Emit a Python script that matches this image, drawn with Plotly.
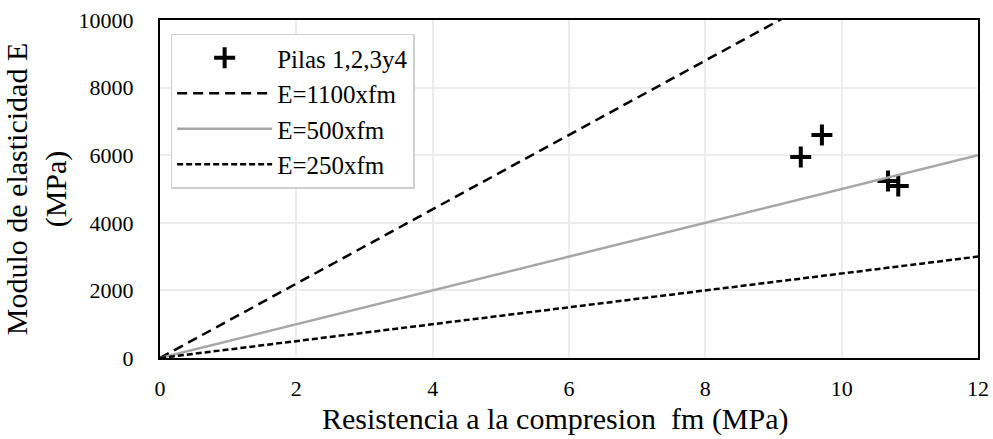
import plotly.graph_objects as go

# Data
fm_points = [9.4, 9.71, 10.68, 10.83]
E_points = [5950, 6600, 5240, 5090]
fm_line = [0, 12]
coef_1100 = 1100
coef_500 = 500
coef_250 = 250

FONT = "Liberation Serif, Times New Roman, serif"

fig = go.Figure()
fig.add_trace(go.Scatter(
    x=fm_points, y=E_points, mode="markers", name="Pilas 1,2,3y4",
    marker=dict(symbol="cross-thin", size=15, line=dict(width=4, color="black"), color="black"),
))
fig.add_trace(go.Scatter(
    x=fm_line, y=[coef_1100 * v for v in fm_line], mode="lines", name="E=1100xfm",
    line=dict(color="black", width=2.5, dash="10px,6px"),
))
fig.add_trace(go.Scatter(
    x=fm_line, y=[coef_500 * v for v in fm_line], mode="lines", name="E=500xfm",
    line=dict(color="#a6a6a6", width=2.5),
))
fig.add_trace(go.Scatter(
    x=fm_line, y=[coef_250 * v for v in fm_line], mode="lines", name="E=250xfm",
    line=dict(color="black", width=2.5, dash="6px,3px"),
))

fig.update_layout(
    width=993, height=439,
    margin=dict(l=160, r=15, t=20, b=81),
    paper_bgcolor="white", plot_bgcolor="white",
    font=dict(family=FONT, size=22, color="black"),
    showlegend=True,
    legend=dict(
        x=0.013, y=0.96, xanchor="left", yanchor="top",
        bgcolor="white", bordercolor="#d0d0d0", borderwidth=1.5,
        font=dict(family=FONT, size=25, color="black"),
        itemwidth=95, tracegroupgap=0,
    ),
    xaxis=dict(
        range=[0, 12], dtick=2, tick0=0,
        showgrid=True, gridcolor="#ececec", gridwidth=1.5,
        showline=True, linecolor="black", linewidth=2, mirror=True,
        zeroline=False, ticks="", ticklabelstandoff=10,
        tickfont=dict(family=FONT, size=22),
        automargin=False,
    ),
    yaxis=dict(
        range=[0, 10000], dtick=2000, tick0=0, tickformat="d",
        showgrid=True, gridcolor="#ececec", gridwidth=1.5,
        showline=True, linecolor="black", linewidth=2, mirror=True,
        zeroline=False, ticks="", ticklabelstandoff=20,
        tickfont=dict(family=FONT, size=22),
        title=dict(text="Modulo de elasticidad E<br>(MPa)", font=dict(family=FONT, size=30), standoff=14),
        automargin=False,
    ),
    annotations=[dict(
        text="Resistencia a la compresion  fm (MPa)", xref="paper", yref="paper",
        x=0.483, y=-0.18, xanchor="center", yanchor="middle", showarrow=False,
        font=dict(family=FONT, size=30, color="black"),
    )],
)

fig.write_html("out.html", config={"displayModeBar": False},
               post_script="document.body.style.margin='0px';")
